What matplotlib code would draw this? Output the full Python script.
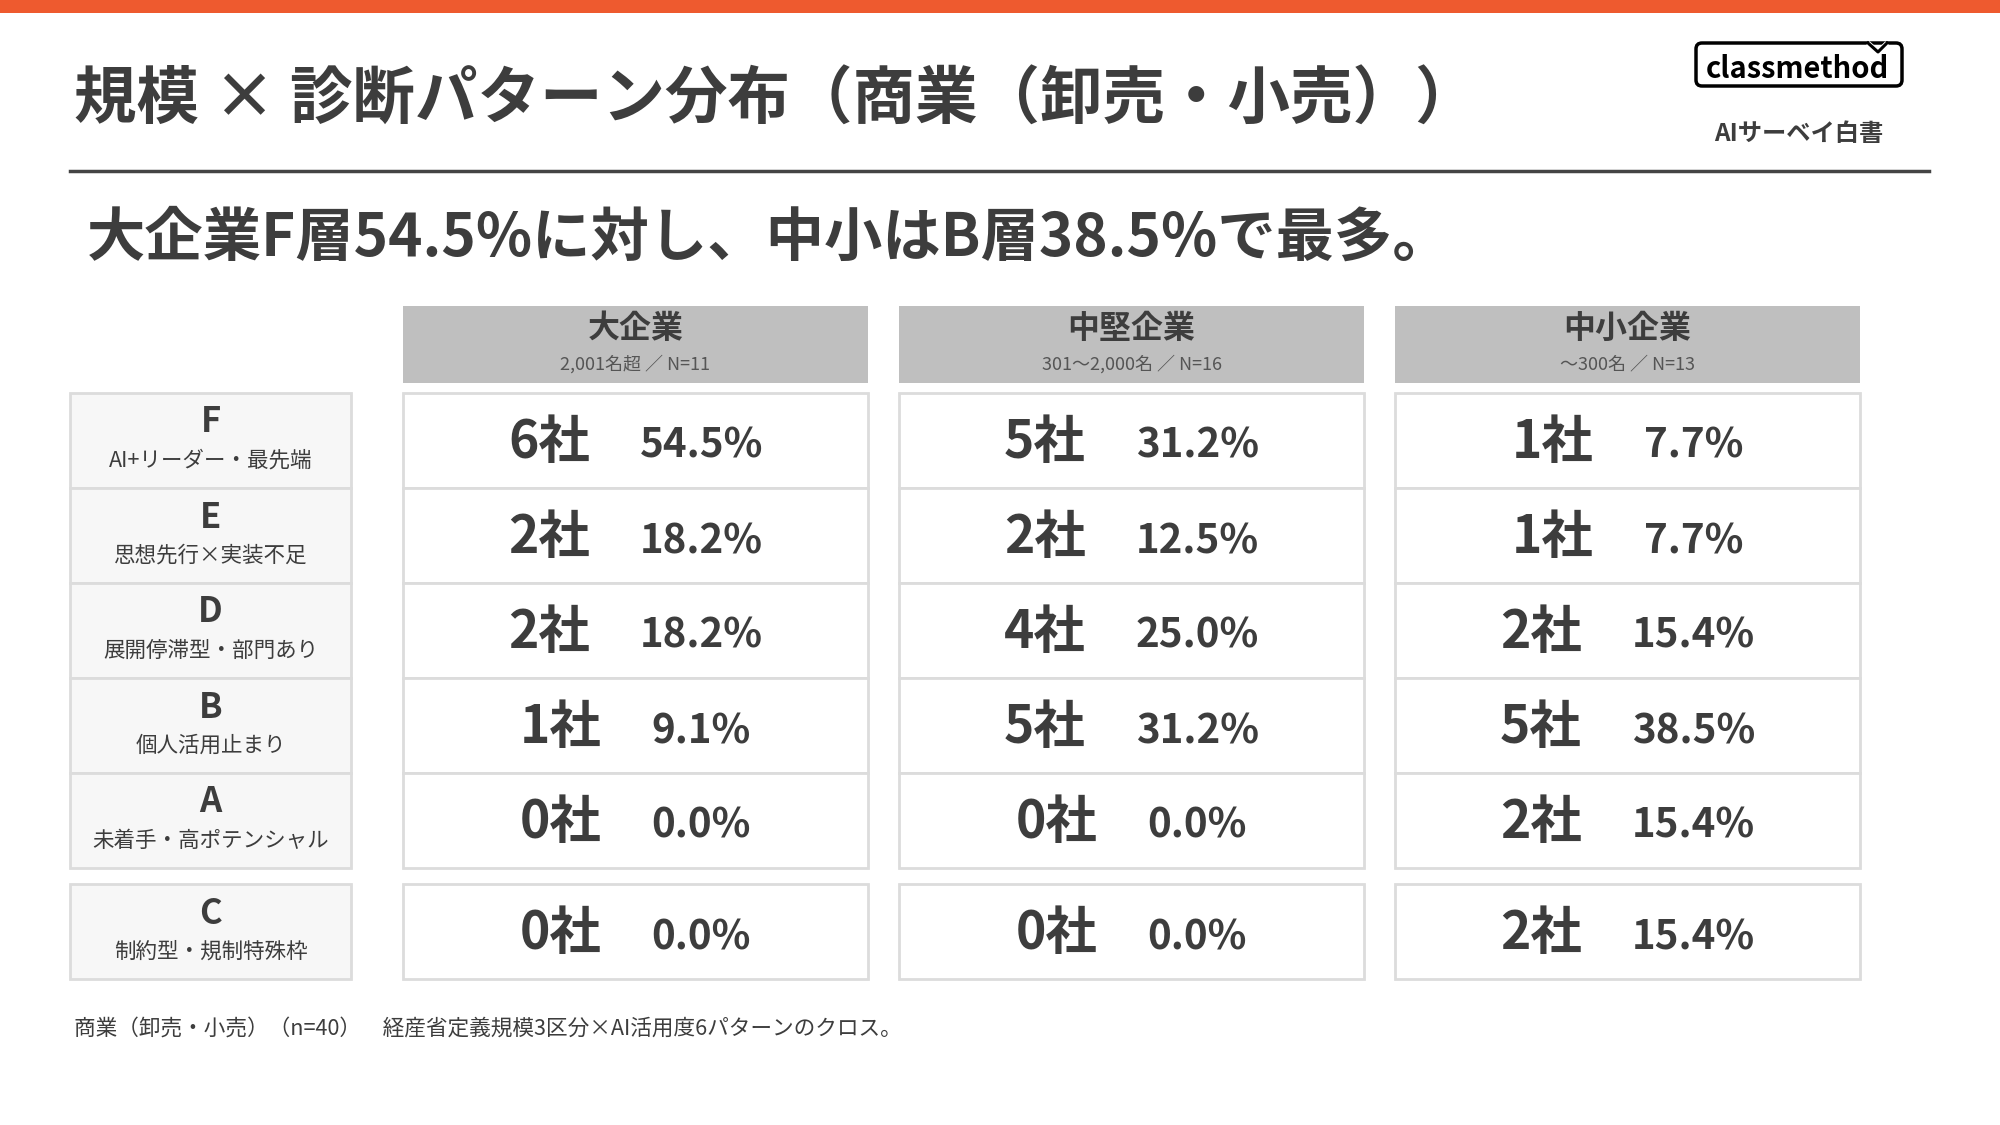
import matplotlib
matplotlib.use("Agg")
import matplotlib.pyplot as plt
from matplotlib.patches import Rectangle, FancyBboxPatch
from matplotlib.offsetbox import TextArea, HPacker, AnnotationBbox

plt.rcParams['font.family'] = ['Noto Sans CJK JP', 'DejaVu Sans']

# ---- data ----
title = '規模 × 診断パターン分布（商業（卸売・小売））'
headline = '大企業F層54.5%に対し、中小はB層38.5%で最多。'
footnote = '商業（卸売・小売）（n=40）　経産省定義規模3区分×AI活用度6パターンのクロス。'

sizes = ['大企業', '中堅企業', '中小企業']
size_notes = ['2,001名超 ／ N=11', '301〜2,000名 ／ N=16', '〜300名 ／ N=13']

patterns = ['F', 'E', 'D', 'B', 'A', 'C']
pattern_desc = ['AI+リーダー・最先端', '思想先行×実装不足', '展開停滞型・部門あり',
                '個人活用止まり', '未着手・高ポテンシャル', '制約型・規制特殊枠']

large_counts = [6, 2, 2, 1, 0, 0]
mid_counts = [5, 2, 4, 5, 0, 0]
small_counts = [1, 1, 2, 5, 2, 2]
large_pct = [54.5, 18.2, 18.2, 9.1, 0.0, 0.0]
mid_pct = [31.2, 12.5, 25.0, 31.2, 0.0, 0.0]
small_pct = [7.7, 7.7, 15.4, 38.5, 15.4, 15.4]

counts = [large_counts, mid_counts, small_counts]
pcts = [large_pct, mid_pct, small_pct]

# ---- layout ----
TXT = '#3d3d3d'
BORDER = '#dcdcdc'
W, H = 2000, 1125

fig = plt.figure(figsize=(20, 11.25), dpi=100)
ax = fig.add_axes([0, 0, 1, 1])
ax.set_xlim(0, W)
ax.set_ylim(H, 0)
ax.axis('off')

# top band and title
ax.add_patch(Rectangle((0, 0), W, 13, color='#ee5a2f', lw=0))
ax.text(74, 100, title, fontsize=45, fontweight='bold', color=TXT, va='center', ha='left')
ax.plot([70, 1929], [171, 171], color='#444444', lw=2.5)
ax.text(87, 239, headline, fontsize=42, fontweight='bold', color=TXT, va='center', ha='left')

# logo
ax.add_patch(FancyBboxPatch((1696, 43), 206, 43, boxstyle='round,pad=0,rounding_size=6',
                            fc='white', ec='black', lw=2.5))
ax.plot([1868, 1878, 1887], [43, 52, 43], color='white', lw=3.5, solid_capstyle='butt')
ax.plot([1868, 1878, 1887], [43, 52, 43], color='black', lw=2.2)
ax.text(1797, 69, 'classmethod', fontsize=21, fontweight='bold', color='black',
        ha='center', va='center')
ax.text(1799, 134, 'AIサーベイ白書', fontsize=17.5, fontweight='bold', color=TXT,
        ha='center', va='center')

# table geometry
col_x = [403, 899, 1395]
col_w = 465
lab_x, lab_w = 70, 281
row_h = 95
row_top = [393 + i * row_h for i in range(5)] + [884]

# column headers
for j, name in enumerate(sizes):
    ax.add_patch(Rectangle((col_x[j], 306), col_w, 77, fc='#bfbfbf', ec='none'))
    cx = col_x[j] + col_w / 2
    ax.text(cx, 329, name, fontsize=23, fontweight='bold', color=TXT, ha='center', va='center')
    ax.text(cx, 364, size_notes[j], fontsize=13, color='#555555', ha='center', va='center')

# row labels and cells
for i, pat in enumerate(patterns):
    top = row_top[i]
    ax.add_patch(Rectangle((lab_x, top), lab_w, row_h, fc='#f7f7f7', ec=BORDER, lw=2))
    lx = lab_x + lab_w / 2
    ax.text(lx, top + 29, pat, fontsize=25, fontweight='bold', color=TXT, ha='center', va='center')
    ax.text(lx, top + 68, pattern_desc[i], fontsize=15.5, color=TXT, ha='center', va='center')

    for j in range(len(sizes)):
        ax.add_patch(Rectangle((col_x[j], top), col_w, row_h, fc='white', ec=BORDER, lw=2))
        cnt = TextArea(f'{counts[j][i]}社',
                       textprops=dict(fontsize=37, fontweight='bold', color=TXT))
        pct = TextArea(f'{pcts[j][i]:.1f}%',
                       textprops=dict(fontsize=29, fontweight='bold', color=TXT))
        box = HPacker(children=[cnt, pct], align='baseline', pad=0, sep=36)
        ab = AnnotationBbox(box, (col_x[j] + col_w / 2, top + row_h / 2 + 2),
                            xycoords='data', frameon=False, box_alignment=(0.5, 0.5))
        ax.add_artist(ab)

ax.text(74, 1029, footnote, fontsize=15.6, color=TXT, ha='left', va='center')

fig.savefig('out.png', dpi=100, facecolor='white')
